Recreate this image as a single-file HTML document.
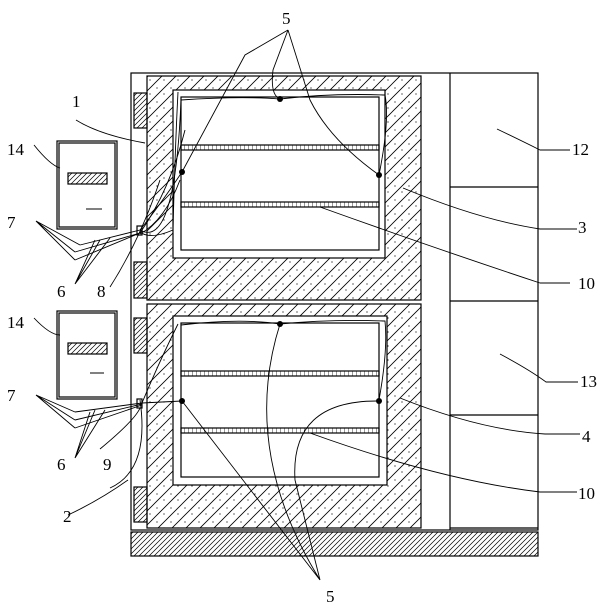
<!DOCTYPE html>
<html><head><style>body{margin:0;background:#fff}svg{display:block}text{font-family:"Liberation Serif",serif;font-size:17px;fill:#000}</style></head><body>
<svg width="602" height="610" viewBox="0 0 602 610" xmlns="http://www.w3.org/2000/svg">
<defs>
<pattern id="h" width="14" height="14" patternUnits="userSpaceOnUse">
<path d="M0 14L14 0M-2 2L2 -2M12 16L16 12" stroke="#000" stroke-width="0.8"/>
<circle cx="3" cy="4" r="0.6" fill="#000"/><circle cx="10" cy="10" r="0.6" fill="#000"/>
</pattern>
<pattern id="b" width="5" height="5" patternUnits="userSpaceOnUse">
<path d="M0 5L5 0M-1 1L1 -1M4 6L6 4" stroke="#000" stroke-width="0.7"/>
</pattern>
<pattern id="s" width="4" height="6" patternUnits="userSpaceOnUse">
<path d="M0 0V6" stroke="#000" stroke-width="0.8"/>
</pattern>
</defs>
<g fill="none" stroke="#000" stroke-width="1.2">
<rect x="131" y="73" width="407" height="457"/>
<rect x="131" y="532" width="407" height="24" fill="url(#b)"/>
<rect x="147" y="76" width="274" height="224" fill="url(#h)"/>
<rect x="147" y="304" width="274" height="224" fill="url(#h)"/>
<line x1="450" y1="73" x2="450" y2="530"/>
<line x1="450" y1="187" x2="538" y2="187"/>
<line x1="450" y1="301" x2="538" y2="301"/>
<line x1="450" y1="415" x2="538" y2="415"/>
<line x1="450" y1="528" x2="538" y2="528"/>
<rect x="134" y="93" width="13" height="35" fill="url(#b)"/>
<rect x="134" y="262" width="13" height="36" fill="url(#b)"/>
<rect x="134" y="318" width="13" height="35" fill="url(#b)"/>
<rect x="134" y="487" width="13" height="35" fill="url(#b)"/>
<rect x="173" y="90" width="212" height="168" fill="#fff"/>
<rect x="181" y="97" width="198" height="153"/>
<rect x="181" y="145" width="198" height="5" fill="url(#s)"/>
<rect x="181" y="202" width="198" height="5" fill="url(#s)"/>
<rect x="173" y="316" width="214" height="169" fill="#fff"/>
<rect x="181" y="323" width="198" height="154"/>
<rect x="181" y="371" width="198" height="5" fill="url(#s)"/>
<rect x="181" y="428" width="198" height="5" fill="url(#s)"/>
<rect x="57" y="141" width="60" height="88"/><rect x="59" y="143" width="56" height="84"/>
<rect x="68" y="173" width="39" height="11" fill="url(#b)"/>
<rect x="57" y="311" width="60" height="88"/><rect x="59" y="313" width="56" height="84"/>
<rect x="68" y="343" width="39" height="11" fill="url(#b)"/>
<rect x="137" y="226" width="5" height="9"/><rect x="137" y="399" width="5" height="9"/>
</g>
<g fill="none" stroke="#000" stroke-width="0.9">
<path d="M86 209h16M90 373h14"/>
<path d="M181 100 Q240 96 280 99 Q330 93 385 95 Q390 120 379 175"/>
<path d="M178 92 Q175 150 173 230 Q150 240 140 232"/>
<path d="M182 172 Q160 205 140 230 L80 245 M140 233 L75 252 M140 233 L75 260"/>
<path d="M182 172 L245 55 L288 30 M288 30 L273 70 Q270 95 280 99 M288 30 L310 100 Q330 140 379 175"/>
<path d="M140 233 Q170 190 185 130 M140 234 Q165 220 180 180 M110 287 Q140 240 160 180"/>
<path d="M181 100 Q175 250 140 230"/>
<path d="M320 207 Q440 250 540 283 H570"/>
<path d="M403 188 Q480 220 540 229 H577"/>
<path d="M497 129 Q520 140 540 150 H570"/>
<path d="M110 488 Q150 470 140 400"/>
<path d="M100 449 Q135 420 140 408"/>
<path d="M181 325 Q240 318 280 324 Q330 319 385 321 Q388 350 379 400"/>
<path d="M142 403 L182 401 M142 403 L75 412 M142 404 L75 420 M142 405 L75 428"/>
<path d="M142 403 Q160 360 178 324"/>
<path d="M182 401 L320 580 M280 324 Q240 450 320 580 M379 401 Q290 400 295 480 L320 580"/>
<path d="M310 433 Q440 480 540 492 H577"/>
<path d="M400 398 Q480 430 545 434 H580"/>
<path d="M500 354 Q530 370 546 382 H578"/>
<path d="M68 515 Q100 500 128 480"/>
<path d="M76 120 Q100 135 145 143 M34 145 Q50 165 60 168 M34 318 Q50 335 60 335"/>
<path d="M36 221 L80 245 M36 221 L75 252 M36 221 L75 260 M36 395 L75 412 M36 395 L75 420 M36 395 L75 428"/>
<path d="M75 284 L95 240 M75 284 L100 240 M75 284 L110 238 M75 458 L90 412 M75 458 L95 410 M75 458 L105 410"/>
</g>
<g fill="#000"><circle cx="280" cy="99" r="3"/><circle cx="182" cy="172" r="3"/><circle cx="379" cy="175" r="3"/>
<circle cx="280" cy="324" r="3"/><circle cx="182" cy="401" r="3"/><circle cx="379" cy="401" r="3"/></g>
<text x="282" y="24">5</text><text x="72" y="107">1</text><text x="7" y="155">14</text>
<text x="7" y="228">7</text><text x="57" y="297">6</text><text x="97" y="297">8</text>
<text x="7" y="328">14</text><text x="7" y="401">7</text><text x="57" y="470">6</text><text x="103" y="470">9</text>
<text x="63" y="522">2</text><text x="326" y="602">5</text>
<text x="572" y="155">12</text><text x="578" y="233">3</text><text x="578" y="289">10</text>
<text x="580" y="387">13</text><text x="582" y="442">4</text><text x="578" y="499">10</text>
</svg>
</body></html>
